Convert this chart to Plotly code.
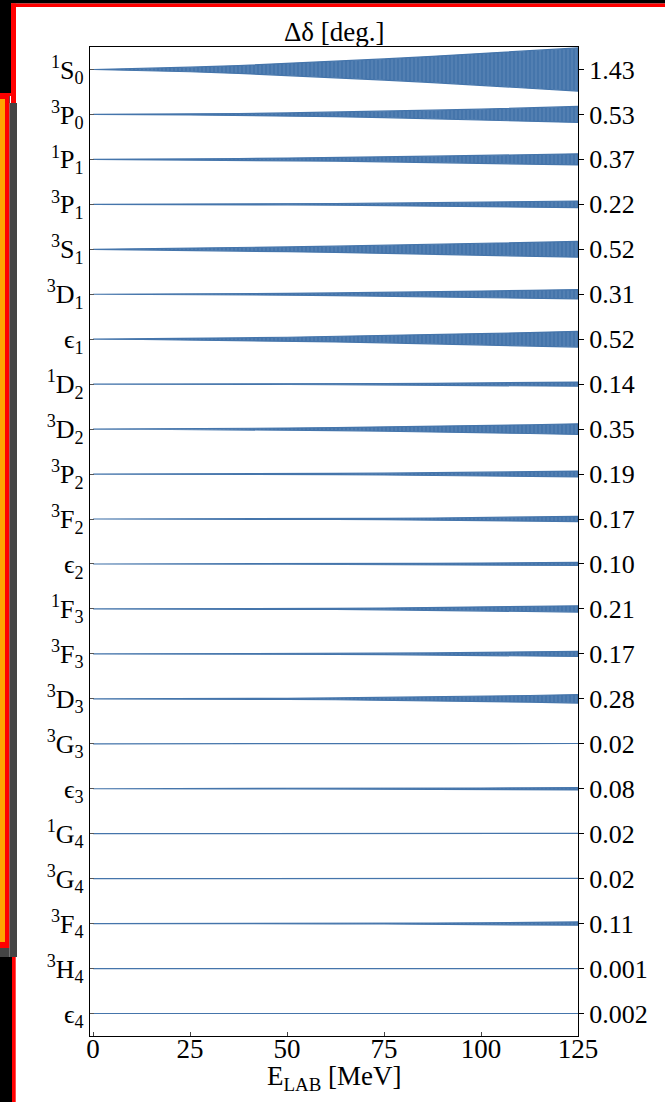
import plotly.graph_objects as go

# ---------------- data ----------------
energies = [0, 12.5, 25, 37.5, 50, 62.5, 75, 87.5, 100, 112.5, 125]

wave_labels = [
    "<sup>1</sup>S<sub>0</sub>", "<sup>3</sup>P<sub>0</sub>", "<sup>1</sup>P<sub>1</sub>",
    "<sup>3</sup>P<sub>1</sub>", "<sup>3</sup>S<sub>1</sub>", "<sup>3</sup>D<sub>1</sub>",
    "ϵ<sub>1</sub>", "<sup>1</sup>D<sub>2</sub>", "<sup>3</sup>D<sub>2</sub>",
    "<sup>3</sup>P<sub>2</sub>", "<sup>3</sup>F<sub>2</sub>", "ϵ<sub>2</sub>",
    "<sup>1</sup>F<sub>3</sub>", "<sup>3</sup>F<sub>3</sub>", "<sup>3</sup>D<sub>3</sub>",
    "<sup>3</sup>G<sub>3</sub>", "ϵ<sub>3</sub>", "<sup>1</sup>G<sub>4</sub>",
    "<sup>3</sup>G<sub>4</sub>", "<sup>3</sup>F<sub>4</sub>", "<sup>3</sup>H<sub>4</sub>",
    "ϵ<sub>4</sub>",
]

right_labels = ["1.43", "0.53", "0.37", "0.22", "0.52", "0.31", "0.52", "0.14",
                "0.35", "0.19", "0.17", "0.10", "0.21", "0.17", "0.28", "0.02",
                "0.08", "0.02", "0.02", "0.11", "0.001", "0.002"]

# uncertainty (deg.) read at each energy
d_1S0 = [0, 0.06, 0.15, 0.26, 0.40, 0.54, 0.70, 0.87, 1.04, 1.23, 1.43]
d_3P0 = [0, 0.01, 0.03, 0.06, 0.10, 0.15, 0.21, 0.28, 0.35, 0.44, 0.53]
d_1P1 = [0, 0.01, 0.03, 0.05, 0.09, 0.12, 0.16, 0.21, 0.26, 0.31, 0.37]
d_3P1 = [0, 0.002, 0.009, 0.02, 0.035, 0.055, 0.08, 0.11, 0.14, 0.18, 0.22]
d_3S1 = [0, 0.03, 0.06, 0.11, 0.16, 0.21, 0.27, 0.33, 0.39, 0.45, 0.52]
d_3D1 = [0, 0.005, 0.017, 0.035, 0.06, 0.09, 0.12, 0.16, 0.21, 0.26, 0.31]
d_E1 = [0, 0.02, 0.05, 0.09, 0.13, 0.18, 0.24, 0.30, 0.37, 0.44, 0.52]
d_1D2 = [0, 0.0, 0.003, 0.007, 0.014, 0.025, 0.039, 0.057, 0.08, 0.11, 0.14]
d_3D2 = [0, 0.006, 0.019, 0.04, 0.067, 0.10, 0.14, 0.18, 0.23, 0.29, 0.35]
d_3P2 = [0, 0.001, 0.005, 0.013, 0.025, 0.041, 0.062, 0.087, 0.116, 0.15, 0.19]
d_3F2 = [0, 0.0, 0.003, 0.007, 0.016, 0.028, 0.045, 0.067, 0.095, 0.13, 0.17]
d_E2 = [0, 0.0, 0.002, 0.005, 0.011, 0.019, 0.029, 0.043, 0.059, 0.078, 0.10]
d_1F3 = [0, 0.0, 0.003, 0.009, 0.019, 0.035, 0.056, 0.083, 0.118, 0.16, 0.21]
d_3F3 = [0, 0.0, 0.003, 0.007, 0.016, 0.028, 0.045, 0.067, 0.095, 0.13, 0.17]
d_3D3 = [0, 0.002, 0.008, 0.02, 0.037, 0.061, 0.091, 0.128, 0.171, 0.222, 0.28]
d_3G3 = [0, 0, 0, 0.001, 0.002, 0.003, 0.005, 0.008, 0.011, 0.015, 0.02]
d_E3 = [0, 0, 0.001, 0.004, 0.007, 0.013, 0.021, 0.032, 0.045, 0.061, 0.08]
d_1G4 = [0, 0, 0, 0.001, 0.002, 0.003, 0.005, 0.008, 0.011, 0.015, 0.02]
d_3G4 = [0, 0, 0, 0.001, 0.002, 0.003, 0.005, 0.008, 0.011, 0.015, 0.02]
d_3F4 = [0, 0, 0.001, 0.003, 0.007, 0.014, 0.024, 0.038, 0.056, 0.08, 0.11]
d_3H4 = [0, 0, 0, 0, 0, 0, 0, 0, 0.0005, 0.0008, 0.001]
d_E4 = [0, 0, 0, 0, 0, 0, 0.0005, 0.001, 0.0013, 0.0017, 0.002]

all_bands = [d_1S0, d_3P0, d_1P1, d_3P1, d_3S1, d_3D1, d_E1, d_1D2, d_3D2, d_3P2,
             d_3F2, d_E2, d_1F3, d_3F3, d_3D3, d_3G3, d_E3, d_1G4, d_3G4, d_3F4,
             d_3H4, d_E4]

x_ticks = [0, 25, 50, 75, 100, 125]

# ---------------- figure ----------------
BLUE = "#4575ab"
FONT = "Liberation Serif"
W, H = 665, 1102
ML, MR, MT, MB = 90, 87, 47, 66
PW, PH = W - ML - MR, H - MT - MB
max_val = max(max(b) for b in all_bands)
half_scale = 0.48 / max_val  # rows per degree

fig = go.Figure()
for i, band in enumerate(all_bands):
    upper = [i - v * half_scale for v in band]
    lower = [i + v * half_scale for v in band]
    fig.add_trace(go.Scatter(
        x=energies + energies[::-1],
        y=upper + lower[::-1],
        fill="toself",
        fillcolor=BLUE,
        fillpattern=dict(shape="|", size=4, solidity=0.15, fgcolor="#d4e0ee",
                         bgcolor=BLUE, fgopacity=0.3, fillmode="replace"),
        line=dict(color=BLUE, width=1.2),
        mode="lines",
        hoverinfo="skip",
        showlegend=False,
    ))

# invisible trace for right axis
fig.add_trace(go.Scatter(x=[0], y=[0], yaxis="y2", mode="markers",
                         marker=dict(opacity=0), showlegend=False, hoverinfo="skip"))

rows = list(range(len(wave_labels)))

def px2x(px):
    return (px - ML) / PW

def py2y(py):
    return (H - MB - py) / PH

shapes = []
def rect(x0, y0, x1, y1, color):
    shapes.append(dict(type="rect", xref="paper", yref="paper",
                       x0=px2x(x0), x1=px2x(x1), y0=py2y(y0), y1=py2y(y1),
                       fillcolor=color, line=dict(width=0), layer="above"))

# screenshot frame
rect(0, 0, W, 3.4, "#000000")
rect(11, 3.4, W, 7, "#ff0000")
rect(0, 0, 11, 93, "#000000")
rect(11, 3.4, 16, 103, "#ff0000")
rect(0, 93, 12, 96, "#ff0000")
rect(0, 96, 9.5, 948, "#ff0000")
rect(0, 99, 5, 942, "#ffa500")
rect(9.5, 96, 10, 103, "#000000")
rect(9.5, 103, 17, 957, "#444444")
rect(0, 948, 9.5, 957, "#444444")
rect(0, 957, 12, H, "#000000")
rect(12, 957, 15.7, H, "#ff0000")

fig.update_layout(
    width=W, height=H,
    margin=dict(l=ML, r=MR, t=MT, b=MB),
    paper_bgcolor="white",
    plot_bgcolor="white",
    font=dict(family=FONT, size=26, color="black"),
    shapes=shapes,
    xaxis=dict(range=[-0.8, 125], tickvals=x_ticks, ticktext=[str(t) for t in x_ticks],
               showline=True, mirror=True, linecolor="black", linewidth=1.3,
               ticks="inside", ticklen=4, tickcolor="#444", showgrid=False,
               zeroline=False, ticklabelstandoff=-12,
               tickfont=dict(size=27, family=FONT)),
    yaxis=dict(range=[21.5, -0.5], tickvals=rows, ticktext=wave_labels,
               showline=True, mirror=True, linecolor="black", linewidth=1.3,
               ticks="inside", ticklen=4, tickcolor="#555", showgrid=False,
               zeroline=False, tickfont=dict(size=26, family=FONT)),
    yaxis2=dict(range=[21.5, -0.5], tickvals=rows, ticktext=right_labels,
                overlaying="y", side="right", showline=False,
                ticks="outside", ticklen=5, tickcolor="black", showgrid=False,
                zeroline=False, tickfont=dict(size=26, family=FONT)),
    annotations=[
        dict(text="Δδ [deg.]", xref="paper", yref="paper", x=0.5, y=py2y(32),
             xanchor="center", yanchor="middle", showarrow=False,
             font=dict(size=27, family=FONT)),
        dict(text="E<sub>LAB</sub> [MeV]", xref="paper", yref="paper", x=0.5, y=py2y(1078),
             xanchor="center", yanchor="middle", showarrow=False,
             font=dict(size=27, family=FONT)),
    ],
)

fig.write_html("out.html")
